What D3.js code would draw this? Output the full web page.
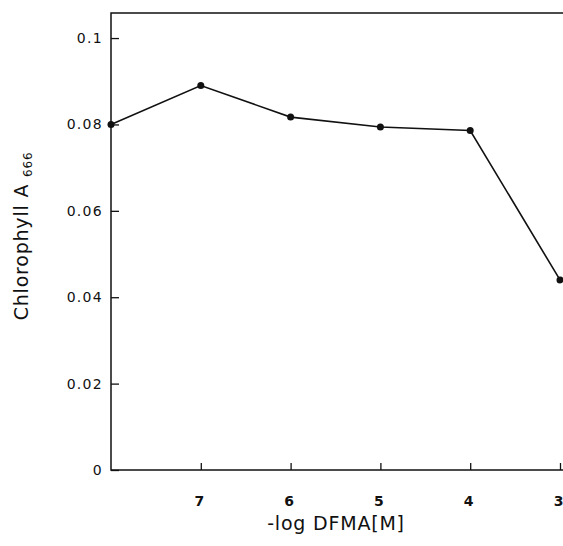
<!DOCTYPE html>
<html>
<head>
<meta charset="utf-8">
<script src="https://cdn.jsdelivr.net/npm/d3@7"></script>
<style>
  body { margin: 0; background: #fff; }
  text { font-family: "DejaVu Sans", "Liberation Sans", Arial, sans-serif; fill: #111; }
</style>
</head>
<body>
<svg width="563" height="546"></svg>
<script>
// data
var logConc = [8, 7, 6, 5, 4, 3];
var chlA = [0.080, 0.089, 0.0817, 0.0794, 0.0786, 0.044];
var xTicks = [7, 6, 5, 4, 3];
var yTicks = [0, 0.02, 0.04, 0.06, 0.08, 0.1];

var svg = d3.select("svg"),
    margin = {top: 13, right: 0, bottom: 76, left: 111},
    width = 563 - margin.left - margin.right,
    height = 546 - margin.top - margin.bottom,
    g = svg.append("g")
    .attr("transform", "translate(" + margin.left + "," + margin.top + ")");

var x = d3.scaleLinear()
    .domain([8, 3])
    .range([0, 449]);

var y = d3.scaleLinear()
    .domain([0, 0.1058])
    .range([height, 0]);

// frame
g.append("rect")
    .attr("x", 0)
    .attr("y", 0)
    .attr("width", width + 10)
    .attr("height", height)
    .attr("fill", "none")
    .attr("stroke", "#111")
    .attr("stroke-width", 1.5);

// y axis, ticks inward
var yAxis = g.append("g")
    .call(d3.axisRight(y).tickValues(yTicks).tickSize(8).tickFormat(d3.format("")));
yAxis.select(".domain").remove();
yAxis.selectAll("line").attr("stroke", "#111").attr("stroke-width", 1.3);
yAxis.selectAll("text")
    .attr("x", -8)
    .attr("text-anchor", "end")
    .style("font-size", "14px")
    .style("letter-spacing", "1.3px");

// x axis, ticks inward
var xAxis = g.append("g")
    .attr("transform", "translate(0," + height + ")")
    .call(d3.axisTop(x).tickValues(xTicks).tickSize(7).tickFormat(d3.format("d")));
xAxis.select(".domain").remove();
xAxis.selectAll("line").attr("stroke", "#111").attr("stroke-width", 1.3);
xAxis.selectAll("text")
    .attr("y", 36)
    .attr("dy", 0)
    .attr("x", -2)
    .style("font-size", "14px")
    .style("font-weight", "bold");

var line = d3.line()
    .x(function(d, i) { return x(logConc[i]); })
    .y(function(d) { return y(d); });

g.append("path")
    .datum(chlA)
    .attr("d", line)
    .attr("fill", "none")
    .attr("stroke", "#111")
    .attr("stroke-width", 1.6);

g.selectAll(".pt")
    .data(chlA)
    .enter().append("circle")
    .attr("class", "pt")
    .attr("cx", function(d, i) { return x(logConc[i]); })
    .attr("cy", function(d) { return y(d); })
    .attr("r", 3.5)
    .attr("fill", "#111");

// axis titles
svg.append("text")
    .attr("x", 336)
    .attr("y", 530)
    .attr("text-anchor", "middle")
    .style("font-size", "19px")
    .style("letter-spacing", "0.8px")
    .text("-log DFMA[M]");

var yl = svg.append("text")
    .attr("text-anchor", "middle")
    .attr("transform", "translate(28,236)rotate(-90)")
    .style("font-size", "19px")
    .style("letter-spacing", "0.8px");
yl.append("tspan").text("Chlorophyll A ");
yl.append("tspan").attr("dy", 4).style("font-size", "12px").text("666");
</script>
</body>
</html>
